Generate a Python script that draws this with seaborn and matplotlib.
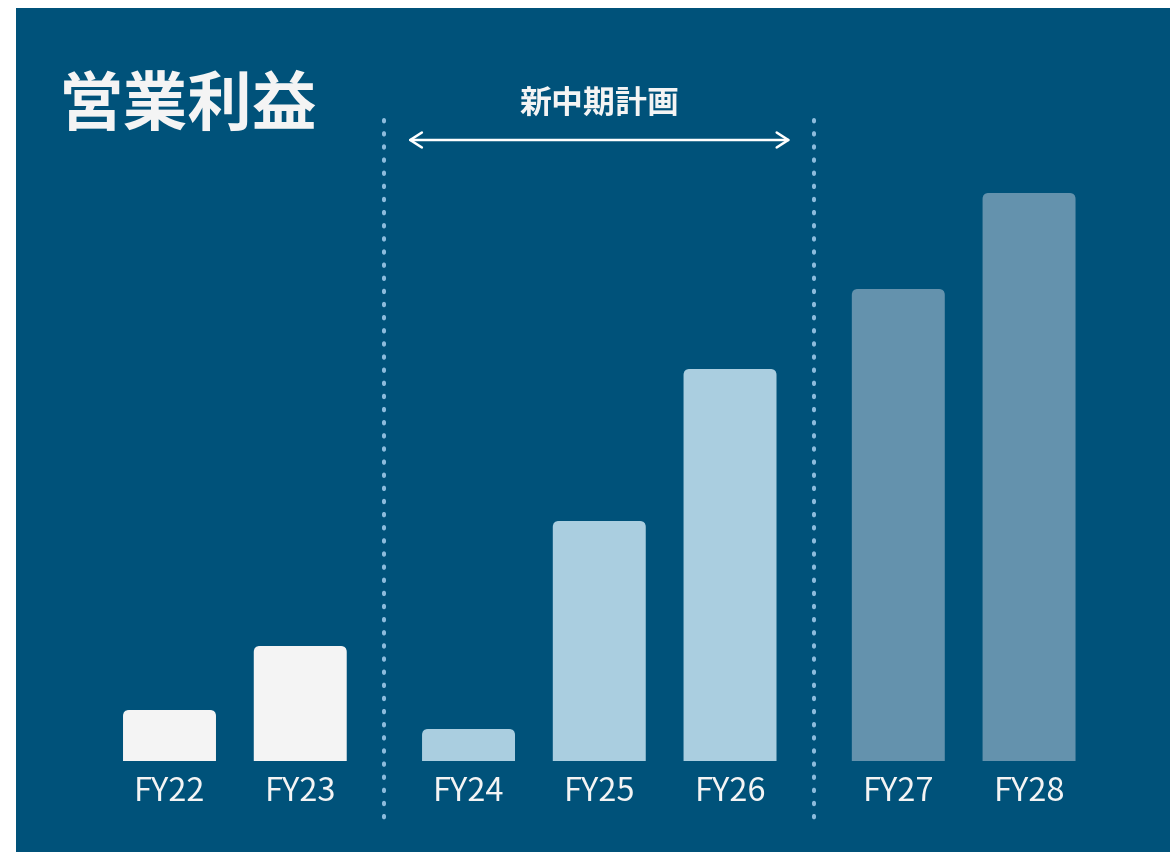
import numpy as np
import pandas as pd
import matplotlib
matplotlib.use("Agg")
import matplotlib.pyplot as plt
from matplotlib.patches import FancyBboxPatch
import seaborn as sns

# ---- data ----
categories = ["FY22", "FY23", "FY24", "FY25", "FY26", "FY27", "FY28"]
values = [5.1, 11.5, 3.2, 24.0, 39.2, 47.2, 56.8]
groups = ["実績", "実績", "新中期計画", "新中期計画", "新中期計画", "将来", "将来"]
title = "営業利益"
plan_label = "新中期計画"

# ---- style ----
BG = "#00527A"
palette = {"実績": "#F4F4F4", "新中期計画": "#AACEE0", "将来": "#6492AD"}
TEXT = "#F4F4F4"
DOT = "#8DBCDD"

sns.set_theme(style="white")
plt.rcParams["font.family"] = ["Noto Sans CJK JP", "DejaVu Sans"]

W, H = 1170, 852
fig = plt.figure(figsize=(W / 100, H / 100), dpi=100, facecolor="white")

# panel background
bg = fig.add_axes([16 / W, 0, (W - 16) / W, (H - 8) / H])
bg.set_facecolor(BG)
bg.set_xticks([]); bg.set_yticks([])
for s in bg.spines.values():
    s.set_visible(False)

# bar axes: from baseline up to panel top
base_px = 91
ax = fig.add_axes([16 / W, base_px / H, (W - 16) / W, (H - 8 - base_px) / H])
ax.patch.set_alpha(0)

gap = 0.287
group_order = ["実績", "新中期計画", "将来"]
gidx = [group_order.index(g) for g in groups]
pos = [i + gap * g for i, g in enumerate(gidx)]
df = pd.DataFrame({"pos": pos, "value": values, "group": groups, "cat": categories})

sns.barplot(data=df, x="pos", y="value", hue="group", palette=palette,
            native_scale=True, dodge=False, width=0.711, legend=False,
            linewidth=0, saturation=1, ax=ax)

unit_px = 130.75
vpp = 0.1
x0 = (16 - 169.5) / unit_px
x1 = (W - 169.5) / unit_px
ax.set_xlim(x0, x1)
ax.set_ylim(0, (H - 8 - base_px) * vpp)

# round the top corners
r_px = 6
rx = r_px / unit_px
aspect = vpp * unit_px
for p in list(ax.patches):
    x, y = p.get_x(), p.get_y()
    w, h = p.get_width(), p.get_height()
    fc = p.get_facecolor()
    p.remove()
    fb = FancyBboxPatch((x, y - 2 * r_px * vpp), w, h + 2 * r_px * vpp,
                        boxstyle=f"round,pad=0,rounding_size={rx}",
                        mutation_aspect=aspect, facecolor=fc, edgecolor="none")
    ax.add_patch(fb)

ax.set_xticks(pos, categories)
ax.tick_params(axis="x", length=0, pad=11, labelsize=23.5, colors=TEXT)
ax.set_yticks([])
ax.set_xlabel(""); ax.set_ylabel("")
for s in ax.spines.values():
    s.set_visible(False)

# dotted separators
sep1 = (pos[1] + pos[2]) / 2
sep2 = (pos[4] + pos[5]) / 2
for sx in (sep1, sep2):
    ax.plot([sx, sx], [64.1, -6.6], color=DOT, lw=2.9, linestyle=(0, (0.36, 2.9)),
            dash_capstyle="round", clip_on=False)

# arrow for plan period
inset = 0.18
ax.annotate("", xy=(sep1 + inset, 62.1), xytext=(sep2 - inset, 62.1),
            arrowprops=dict(arrowstyle="<->,head_length=0.7,head_width=0.45",
                            color="white", lw=1.8, shrinkA=0, shrinkB=0))
ax.text((sep1 + sep2) / 2, 65.6, plan_label, ha="center", va="center",
        fontsize=23, fontweight="bold", color=TEXT)

fig.text(59 / W, (H - 106) / H, title, ha="left", va="center",
         fontsize=46.5, fontweight="bold", color=TEXT)

fig.savefig("out.png", dpi=100, facecolor="white")
